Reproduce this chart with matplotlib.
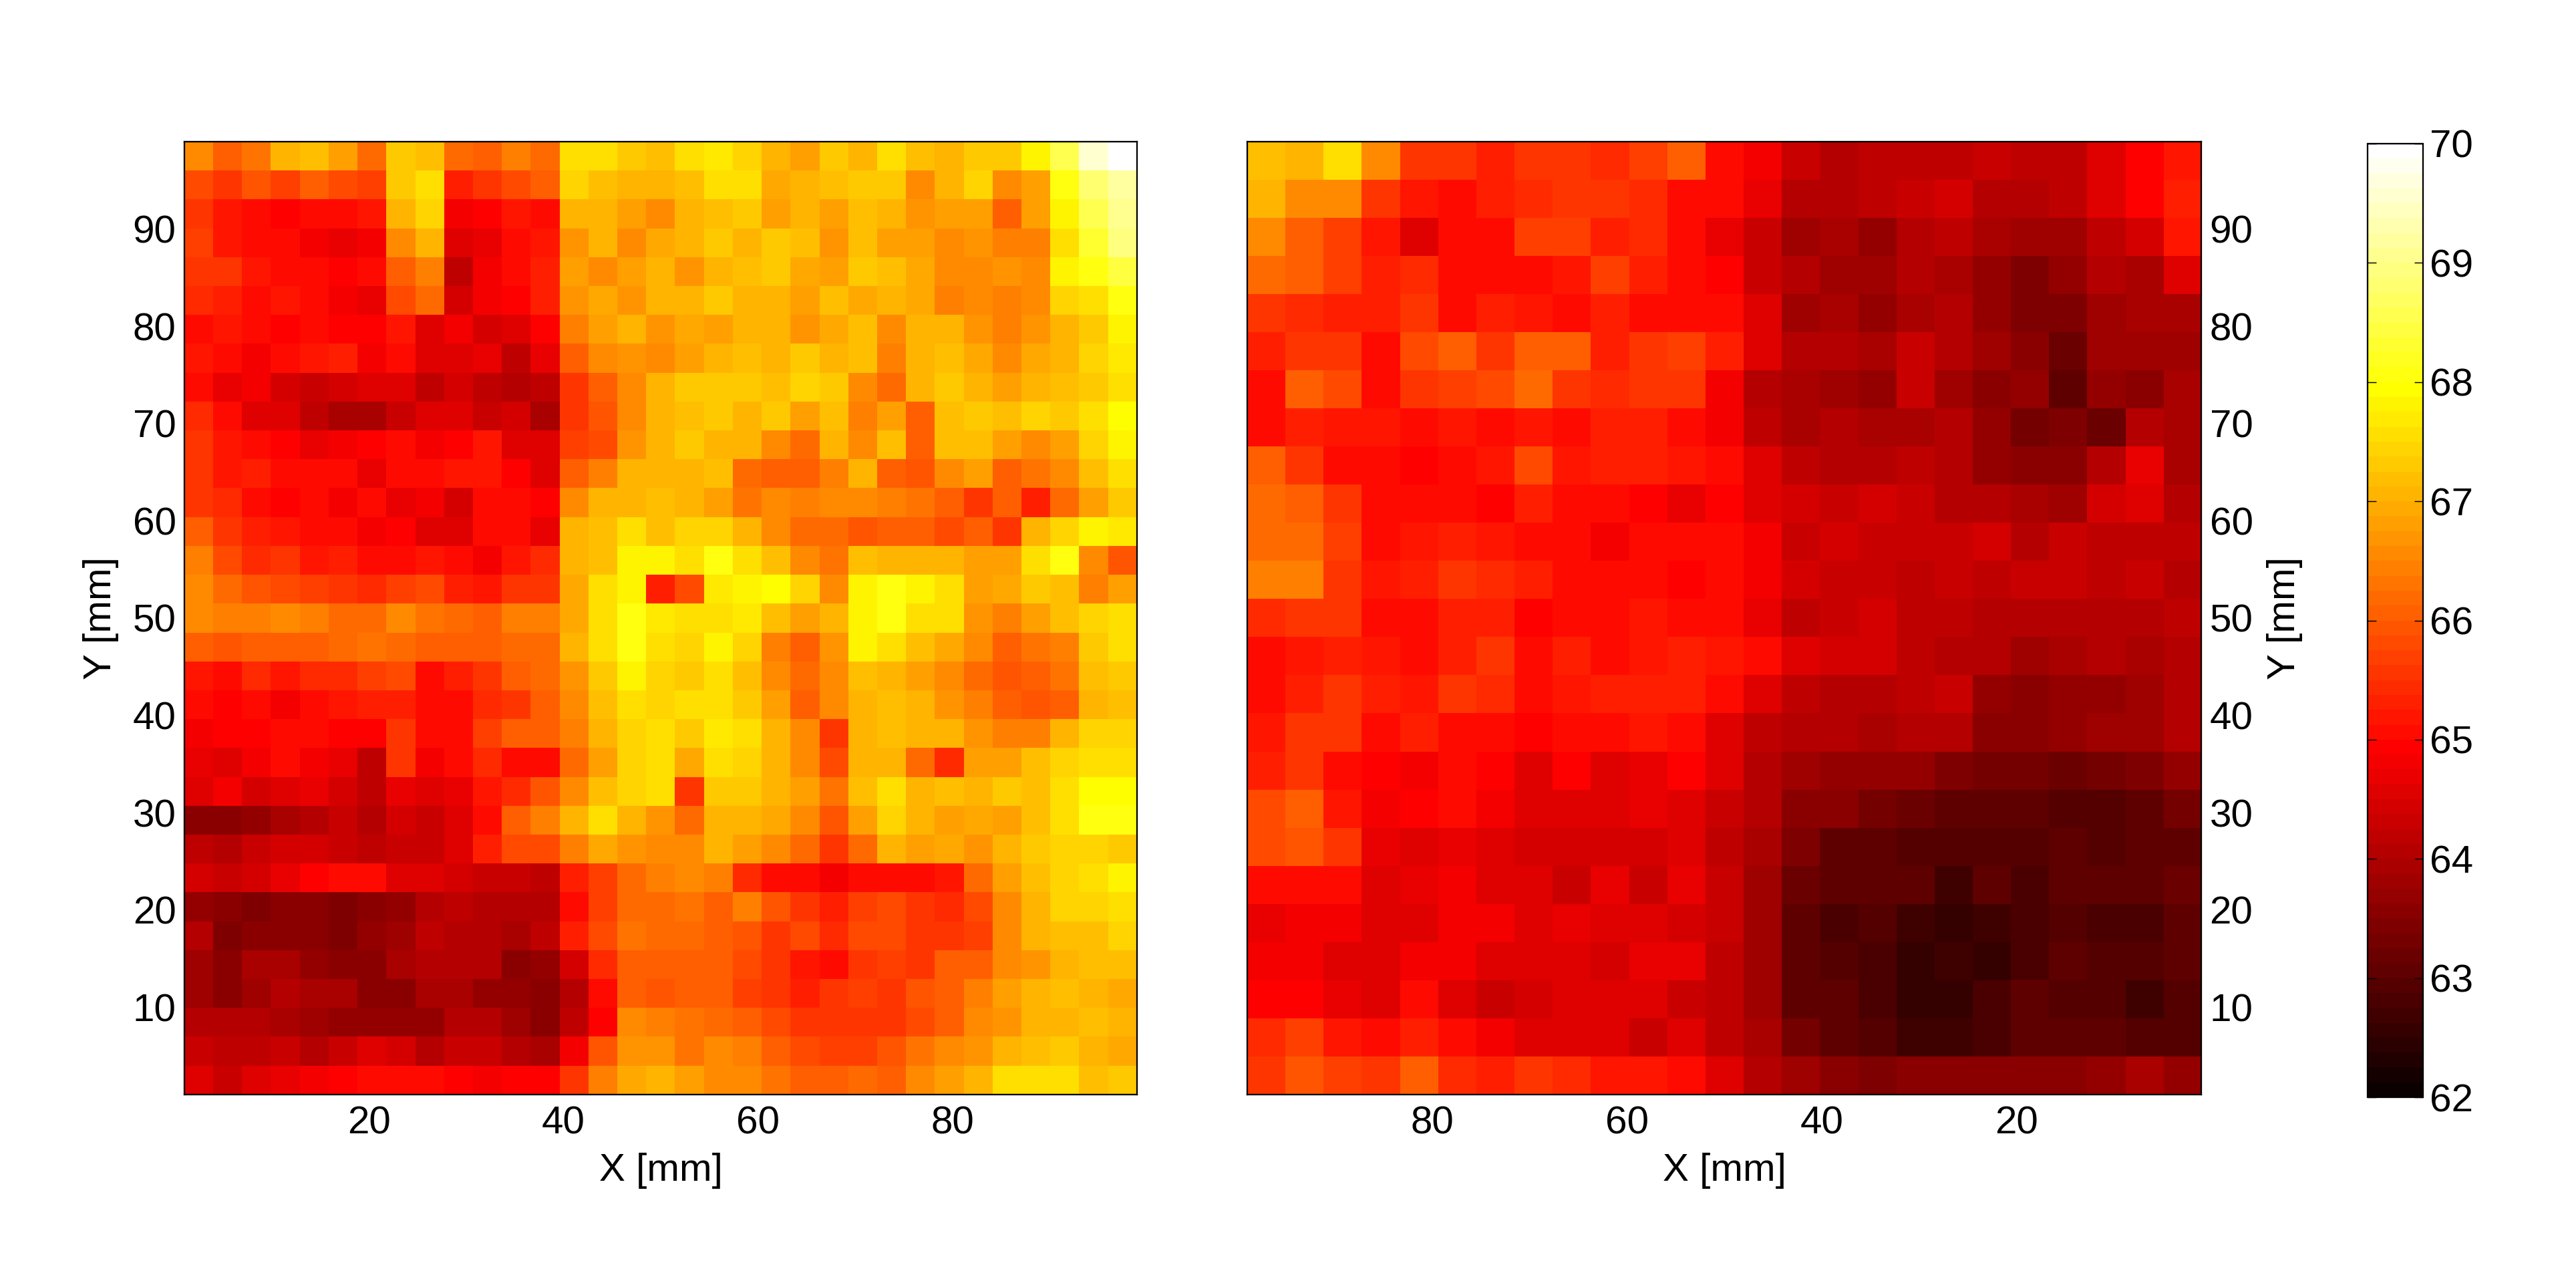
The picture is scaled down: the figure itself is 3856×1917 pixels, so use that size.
#!/usr/bin/env python3
"""Two surface maps in the hot colormap with a shared colorbar."""

import matplotlib.pyplot as plt
import numpy as np

plt.rcParams["font.family"] = ["Liberation Sans", "DejaVu Sans"]

WIDTH, HEIGHT = 3856, 1917

X_TICKS = [20, 40, 60, 80]
Y_TICKS = [10, 20, 30, 40, 50, 60, 70, 80, 90]
CBAR_TICKS = [62, 63, 64, 65, 66, 67, 68, 69, 70]

# top row first, x grows to the right
LEFT_MAP = [
    [66.6,66.0,66.3,67.0,67.2,66.8,66.2,67.3,67.2,66.2,66.0,66.4,66.2,67.5,67.6,67.3,67.2,67.5,67.7,67.4,67.0,66.8,67.3,67.0,67.6,67.2,67.0,67.3,67.3,67.8,68.6,69.6,69.9],
    [65.8,65.6,65.9,65.7,66.0,65.8,65.7,67.3,67.5,65.3,65.5,65.8,66.0,67.4,67.2,67.0,67.0,67.2,67.5,67.6,66.9,67.0,67.2,67.3,67.3,66.5,67.0,67.4,66.5,66.8,68.0,68.8,69.2],
    [65.5,65.2,65.0,64.9,65.1,65.0,65.2,67.0,67.4,64.8,64.9,65.2,65.0,67.0,67.0,66.8,66.6,67.0,67.2,67.3,66.8,67.0,66.8,67.2,67.0,66.7,66.8,66.8,66.0,66.8,67.8,68.6,69.0],
    [65.7,65.2,65.0,65.0,64.8,64.7,64.8,66.5,67.0,64.5,64.7,65.0,65.2,66.7,67.0,66.5,66.9,67.0,67.3,67.0,67.3,67.2,66.7,67.2,66.8,66.8,66.5,66.7,66.4,66.4,67.6,68.3,68.9],
    [65.5,65.5,65.2,65.0,65.1,64.9,65.0,66.0,66.4,64.2,64.8,65.0,65.3,66.8,66.6,66.8,67.0,66.7,67.0,67.2,67.3,66.9,66.8,67.3,67.2,66.9,66.6,66.5,66.7,66.5,67.8,68.0,68.4],
    [65.4,65.3,65.0,65.2,65.0,64.8,64.7,65.8,66.2,64.4,64.8,64.9,65.3,66.7,66.9,66.7,67.0,67.1,67.3,67.0,67.0,66.8,67.2,66.9,67.0,66.9,66.4,66.6,66.4,66.6,67.4,67.6,68.1],
    [65.0,65.2,65.0,64.9,65.1,64.9,64.9,65.2,64.6,64.8,64.4,64.6,64.9,66.4,66.8,67.0,66.7,66.9,66.8,67.0,67.0,66.7,66.9,67.2,66.5,67.0,67.0,66.7,66.4,66.7,67.0,67.3,67.8],
    [65.2,65.0,64.8,65.0,65.2,65.3,64.8,65.0,64.5,64.6,64.7,64.2,64.7,66.0,66.5,66.7,66.6,66.8,67.0,67.2,67.0,67.3,67.0,67.2,66.4,67.0,67.2,66.9,66.6,66.9,67.0,67.4,67.7],
    [65.0,64.7,64.8,64.4,64.3,64.4,64.5,64.6,64.2,64.4,64.2,64.0,64.2,65.6,66.0,66.6,67.1,67.3,67.3,67.3,67.2,67.4,67.3,66.6,66.2,67.1,67.3,67.0,66.8,67.0,67.2,67.3,67.6],
    [65.4,65.0,64.6,64.5,64.2,63.9,63.9,64.3,64.5,64.6,64.3,64.4,63.9,65.5,65.9,66.6,67.0,67.2,67.3,67.1,67.3,66.8,67.2,66.4,66.8,66.0,67.2,67.3,67.2,67.4,67.3,67.6,67.9],
    [65.6,65.2,65.0,64.9,64.7,64.8,64.9,65.0,64.8,64.9,65.2,64.6,64.5,65.7,65.8,66.7,67.0,67.3,67.0,67.0,66.5,66.2,67.0,66.6,67.2,66.0,67.2,67.2,66.8,66.6,66.8,67.4,67.8],
    [65.5,65.2,65.3,65.0,65.0,65.1,64.7,65.0,65.0,65.2,65.2,64.9,64.6,66.0,66.4,67.0,67.0,67.0,67.2,66.2,66.0,66.0,66.4,67.0,66.0,65.9,66.6,66.8,66.1,66.3,66.5,67.2,67.5],
    [65.6,65.4,65.0,64.9,65.0,64.8,65.0,64.7,64.8,64.4,65.0,65.0,64.9,66.5,67.0,67.1,67.2,67.0,66.8,66.3,66.5,66.4,66.6,66.5,66.4,66.3,66.0,65.6,66.0,65.3,66.2,66.8,67.3],
    [66.0,65.6,65.3,65.2,65.0,65.1,64.8,64.9,64.6,64.5,65.0,65.0,64.7,67.0,67.2,67.5,67.2,67.4,67.4,67.0,66.6,66.2,66.2,65.9,66.1,66.0,65.8,66.0,65.5,67.0,67.4,67.8,67.7],
    [66.4,65.8,65.4,65.5,65.2,65.3,65.1,65.0,65.2,65.0,64.8,65.2,65.4,67.1,67.2,67.8,67.8,67.5,68.0,67.5,67.2,66.5,66.3,67.2,67.0,67.0,67.0,66.8,66.8,67.6,68.0,66.6,65.9],
    [66.6,66.2,65.9,65.8,65.7,65.6,65.4,65.7,65.8,65.3,65.2,65.6,65.6,66.9,67.5,67.8,65.3,65.8,67.7,67.8,67.9,67.4,66.6,67.8,68.0,67.8,67.6,66.8,66.9,67.3,67.2,66.4,66.8],
    [66.5,66.4,66.4,66.5,66.4,66.2,66.2,66.6,66.3,66.2,66.1,66.4,66.4,66.9,67.5,68.0,67.7,67.6,67.6,67.7,67.2,66.8,67.0,67.8,68.0,67.6,67.5,66.7,66.4,66.8,67.2,67.4,67.6],
    [66.0,65.9,66.0,66.0,66.1,66.2,66.3,66.2,66.0,66.0,66.1,66.2,66.2,67.0,67.6,68.0,67.5,67.4,67.8,67.4,66.4,66.1,66.7,67.8,67.5,67.2,66.9,66.6,66.0,66.3,66.4,67.3,67.5],
    [65.2,65.0,65.4,65.2,65.4,65.4,65.7,65.8,65.0,65.3,65.5,66.0,66.2,66.7,67.3,67.8,67.4,67.3,67.5,67.2,66.6,66.2,66.6,67.2,67.0,66.8,66.6,66.2,65.9,66.0,66.3,67.2,67.3],
    [65.0,64.9,65.0,64.8,65.1,65.2,65.3,65.3,65.0,65.0,65.4,65.6,66.1,66.6,67.2,67.5,67.4,67.5,67.6,67.3,66.8,66.0,66.5,67.0,67.2,67.0,66.7,66.4,66.0,65.9,66.1,67.0,67.2],
    [64.8,64.9,64.9,65.0,65.0,64.9,64.9,65.6,65.0,65.0,65.7,66.0,66.0,66.4,67.0,67.4,67.5,67.3,67.7,67.5,67.0,66.6,65.6,67.0,67.2,67.0,67.0,66.7,66.4,66.4,67.0,67.4,67.4],
    [64.7,64.6,64.8,65.0,64.8,64.7,64.2,65.6,64.8,65.1,65.4,65.0,65.0,66.2,66.8,67.4,67.5,66.9,67.6,67.4,67.0,66.6,65.8,67.0,67.0,66.2,65.4,66.8,66.8,67.2,67.4,67.6,67.6],
    [64.6,64.8,64.4,64.5,64.7,64.4,64.2,64.7,64.6,64.7,65.2,65.4,65.9,66.6,67.2,67.4,67.6,65.5,67.3,67.3,67.0,66.8,66.3,67.2,67.6,67.0,67.2,67.1,67.3,67.2,67.5,67.9,67.9],
    [63.6,63.5,63.7,63.9,64.0,64.3,64.0,64.4,64.3,64.6,65.0,66.0,66.4,67.1,67.6,67.0,66.7,66.2,67.0,67.0,66.9,66.6,65.9,66.8,67.4,67.0,66.8,66.9,66.8,67.2,67.6,68.0,68.0],
    [64.2,64.0,64.3,64.4,64.4,64.3,64.2,64.3,64.3,64.6,65.3,65.8,65.8,66.4,66.9,66.7,66.6,66.5,67.0,66.8,66.6,66.2,65.6,66.2,67.0,66.8,66.9,66.7,67.0,67.3,67.4,67.4,67.3],
    [64.4,64.3,64.4,64.7,64.9,65.0,65.0,64.6,64.6,64.4,64.3,64.3,64.2,65.3,65.7,66.2,66.4,66.5,66.4,65.4,65.1,65.0,64.8,65.0,65.0,65.1,65.2,66.2,66.8,67.2,67.4,67.6,67.8],
    [63.7,63.5,63.4,63.6,63.5,63.4,63.6,63.7,64.0,64.2,64.0,64.0,64.0,65.0,65.7,66.2,66.2,66.3,66.1,66.4,65.9,65.6,65.3,65.7,65.8,65.6,65.4,65.8,66.6,67.0,67.4,67.4,67.6],
    [64.0,63.4,63.6,63.5,63.5,63.4,63.7,63.8,64.2,64.0,64.0,63.9,64.2,65.3,65.8,66.3,66.2,66.2,66.0,65.9,65.6,65.8,65.4,65.8,65.8,65.6,65.5,65.7,66.6,67.0,67.2,67.2,67.4],
    [63.8,63.5,63.9,63.9,63.7,63.5,63.6,63.9,64.0,64.1,64.0,63.6,63.7,64.4,65.4,66.0,66.0,66.0,66.0,65.8,65.6,65.2,65.1,65.6,65.7,65.6,66.0,66.0,66.5,66.7,67.0,67.2,67.2],
    [63.8,63.5,63.8,64.0,63.9,63.9,63.6,63.6,63.9,63.9,63.7,63.7,63.6,64.0,65.0,66.0,65.9,66.0,66.0,65.7,65.6,65.3,65.5,65.7,65.6,65.9,66.0,66.4,66.8,67.0,67.2,67.0,66.9],
    [64.0,64.0,64.0,63.9,63.8,63.7,63.7,63.7,63.7,64.0,64.0,63.8,63.5,64.2,64.9,66.6,66.4,66.3,66.2,66.1,65.8,65.5,65.5,65.6,65.5,65.8,66.1,66.5,66.7,67.0,67.0,67.2,67.1],
    [64.3,64.2,64.2,64.3,64.1,64.3,64.5,64.4,64.0,64.3,64.3,64.0,63.9,64.8,65.9,66.7,66.7,66.3,66.5,66.4,66.0,65.8,65.7,65.7,65.9,66.3,66.5,66.7,67.0,67.2,67.3,67.0,66.9],
    [64.6,64.3,64.5,64.7,64.8,64.9,65.0,65.0,65.0,64.9,64.8,64.9,64.9,65.6,66.4,66.9,67.0,66.8,66.6,66.6,66.3,66.0,66.0,66.2,66.1,66.5,66.8,67.1,67.5,67.6,67.6,67.2,67.3],
]

# top row first, x falls to the right
RIGHT_MAP = [
    [67.2,67.0,67.5,66.5,65.5,65.5,65.3,65.5,65.5,65.4,65.7,66.0,65.0,64.8,64.3,64.1,64.2,64.2,64.2,64.3,64.2,64.2,64.5,64.9,65.2],
    [67.0,66.5,66.6,65.5,65.2,65.1,65.3,65.4,65.5,65.5,65.4,65.0,65.0,64.7,64.1,64.0,64.2,64.3,64.4,64.1,64.0,64.2,64.5,64.9,65.3],
    [66.6,66.0,65.7,65.2,64.6,65.0,65.1,65.7,65.7,65.3,65.4,65.0,64.7,64.3,63.8,63.9,63.7,64.0,64.2,63.9,63.8,63.8,64.2,64.4,65.2],
    [66.2,66.0,65.7,65.3,65.4,65.0,65.0,65.1,65.2,65.7,65.3,65.0,64.9,64.3,64.0,63.8,63.8,64.1,63.9,63.7,63.4,63.7,64.0,63.9,64.5],
    [65.6,65.4,65.3,65.3,65.5,65.0,65.3,65.2,65.0,65.3,65.0,65.0,65.0,64.6,63.8,63.9,63.7,63.9,64.0,63.7,63.4,63.4,63.8,63.9,63.9],
    [65.3,65.6,65.6,65.0,65.8,66.0,65.6,66.1,66.0,65.3,65.6,65.7,65.3,64.6,64.0,64.0,63.9,64.3,64.0,63.8,63.6,63.2,63.8,63.8,63.8],
    [65.0,66.0,65.8,65.0,65.6,65.7,65.8,66.2,65.6,65.4,65.6,65.6,64.8,64.0,63.9,63.8,63.7,64.3,63.8,63.6,63.7,63.1,63.7,63.6,63.9],
    [65.0,65.3,65.2,65.2,65.1,65.2,65.1,65.2,65.0,65.3,65.3,65.0,64.8,64.2,63.9,64.0,63.9,63.9,64.0,63.7,63.3,63.4,63.2,64.0,63.9],
    [66.0,65.5,65.1,65.0,64.9,65.0,65.2,65.8,65.2,65.3,65.3,65.2,65.0,64.5,64.2,64.0,64.1,64.2,64.0,63.7,63.6,63.6,64.0,64.7,63.9],
    [66.2,66.1,65.5,65.0,65.0,65.0,64.9,65.3,65.0,65.0,64.9,64.7,64.9,64.5,64.4,64.3,64.4,64.3,64.1,64.1,63.9,63.8,64.4,64.5,64.0],
    [66.2,66.2,65.7,65.1,65.2,65.3,65.2,65.0,65.0,64.8,65.0,65.1,65.0,64.8,64.3,64.4,64.3,64.3,64.3,64.4,64.1,64.3,64.2,64.2,64.2],
    [66.4,66.4,65.5,65.2,65.3,65.5,65.4,65.3,65.0,65.0,65.0,64.9,65.0,64.8,64.4,64.3,64.3,64.2,64.3,64.2,64.3,64.3,64.2,64.3,64.1],
    [65.4,65.6,65.5,65.0,65.1,65.3,65.3,64.9,65.0,65.0,65.2,65.0,65.0,64.7,64.2,64.3,64.4,64.2,64.2,64.0,64.0,64.0,64.1,64.0,64.2],
    [65.1,65.2,65.3,65.2,65.0,65.3,65.5,65.1,65.3,65.1,65.2,65.3,65.2,65.0,64.6,64.4,64.4,64.2,64.1,64.0,63.8,63.9,64.0,63.9,64.0],
    [65.0,65.3,65.5,65.3,65.2,65.5,65.4,65.1,65.2,65.3,65.3,65.3,65.0,64.6,64.2,64.1,64.1,64.2,64.3,63.7,63.6,63.7,63.7,63.8,64.0],
    [65.2,65.5,65.6,65.0,65.3,65.1,65.0,64.9,65.0,65.1,65.2,65.0,64.5,64.2,64.0,64.0,63.9,64.0,64.0,63.5,63.5,63.7,63.8,63.8,64.1],
    [65.3,65.6,65.0,64.9,64.8,65.0,64.9,64.5,64.9,64.6,64.7,64.9,64.6,64.1,63.8,63.7,63.7,63.7,63.4,63.3,63.3,63.2,63.3,63.4,63.7],
    [65.8,66.0,65.2,64.8,64.9,65.0,64.8,64.5,64.6,64.6,64.7,64.5,64.3,64.0,63.5,63.5,63.3,63.2,63.1,63.1,63.0,62.9,62.9,63.0,63.3],
    [65.8,65.9,65.6,64.7,64.6,64.7,64.5,64.4,64.4,64.4,64.4,64.5,64.2,63.9,63.4,63.0,63.0,62.9,62.9,62.9,62.9,63.0,62.9,63.0,63.1],
    [65.0,65.1,65.0,64.6,64.7,64.8,64.6,64.5,64.3,64.7,64.3,64.7,64.3,63.8,63.2,63.0,63.1,63.1,62.7,63.0,62.8,63.0,63.0,63.0,63.2],
    [64.7,64.8,64.8,64.6,64.6,64.8,64.8,64.6,64.7,64.5,64.6,64.4,64.3,63.8,63.1,62.8,62.9,62.7,62.6,62.7,62.8,62.9,62.8,62.8,63.0],
    [64.8,64.8,64.6,64.6,64.8,64.8,64.6,64.5,64.5,64.4,64.7,64.7,64.2,63.8,63.1,62.9,62.8,62.6,62.7,62.6,62.8,63.0,62.9,62.9,63.0],
    [64.9,64.9,64.7,64.5,65.0,64.5,64.3,64.4,64.5,64.5,64.5,64.3,64.2,63.8,63.1,63.0,62.8,62.5,62.6,62.8,63.0,62.9,62.9,62.7,62.9],
    [65.4,65.7,65.2,65.0,65.3,65.0,64.8,64.6,64.5,64.5,64.3,64.5,64.2,63.9,63.3,63.1,62.9,62.7,62.7,62.8,63.0,63.1,63.0,62.9,62.9],
    [65.6,65.9,65.7,65.6,66.0,65.4,65.3,65.5,65.4,65.2,65.2,65.0,64.5,64.0,63.8,63.6,63.4,63.5,63.5,63.6,63.6,63.6,63.7,63.9,63.7],
]


def add_axes_px(fig, left, top, right, bottom):
    return fig.add_axes(
        [left / WIDTH, 1 - bottom / HEIGHT, (right - left) / WIDTH, (bottom - top) / HEIGHT]
    )


def draw_map(ax, values, extent, cmap):
    im = ax.imshow(
        np.array(values), extent=extent, origin="upper", aspect="auto",
        cmap=cmap, vmin=62, vmax=70, interpolation="nearest",
    )
    ax.set_xticks(X_TICKS)
    ax.set_yticks(Y_TICKS)
    ax.set_xlabel("X [mm]", fontsize=14, labelpad=4)
    ax.set_ylabel("Y [mm]", fontsize=14, labelpad=5)
    ax.tick_params(axis="x", length=0, labelsize=14, pad=4)
    ax.tick_params(axis="y", length=0, labelsize=14, pad=3)
    for spine in ax.spines.values():
        spine.set_linewidth(0.55)
    return im


def main():
    fig = plt.figure(figsize=(WIDTH / 300, HEIGHT / 300), dpi=300)
    cmap = plt.get_cmap("hot", 64)

    ax_left = add_axes_px(fig, 276, 212, 1702, 1638)
    draw_map(ax_left, LEFT_MAP, (1, 99, 1, 99), cmap)

    ax_right = add_axes_px(fig, 1867, 212, 3295, 1638)
    im = draw_map(ax_right, RIGHT_MAP, (99, 1, 1, 99), cmap)
    ax_right.yaxis.tick_right()
    ax_right.yaxis.set_label_position("right")
    ax_right.tick_params(length=0)

    cax = add_axes_px(fig, 3544, 215, 3627, 1642)
    cbar = fig.colorbar(im, cax=cax)
    cbar.set_ticks(CBAR_TICKS)
    cbar.ax.tick_params(direction="in", left=True, right=True, length=3.1, width=0.35, labelsize=14, pad=2.5)
    cbar.outline.set_linewidth(0.55)

    fig.savefig("out.png", dpi=300)


if __name__ == "__main__":
    main()
